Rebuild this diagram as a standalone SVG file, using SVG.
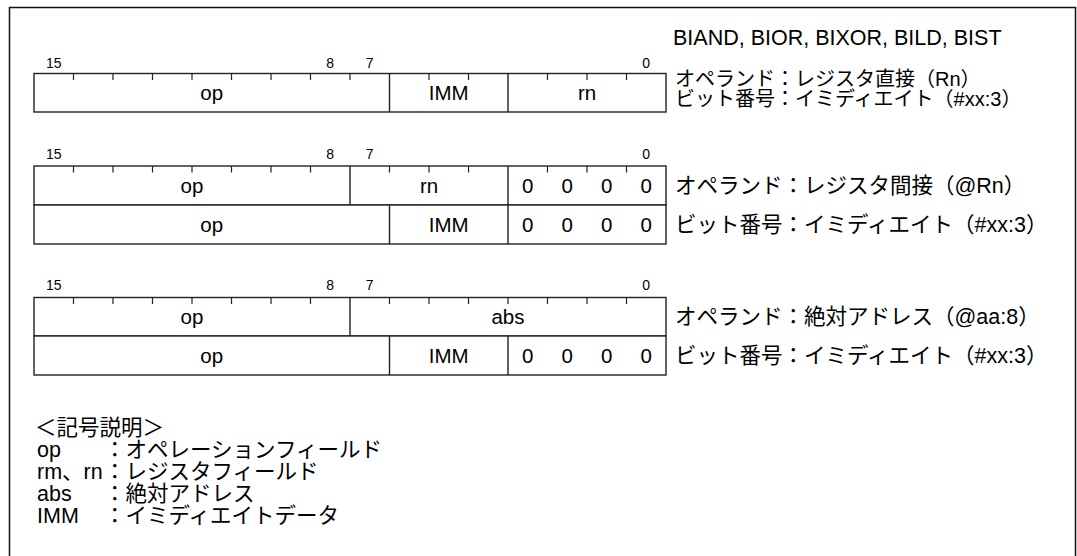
<svg xmlns="http://www.w3.org/2000/svg" width="1077" height="556" viewBox="0 0 1077 556">
<style>
.frame{fill:none;stroke:#111;stroke-width:1.5}
.box{fill:#fff;stroke:#222;stroke-width:1.4}
.ln{stroke:#222;stroke-width:1.4}
.tk{stroke:#222;stroke-width:1.2}
.bit{font-family:"Liberation Sans",Arial,sans-serif;font-size:14px;fill:#000;text-anchor:middle}
.cell{font-family:"Liberation Sans",Arial,sans-serif;font-size:20.5px;fill:#000;text-anchor:middle}
.jp{font-family:"Liberation Sans","Noto Sans CJK JP",sans-serif;font-size:21.5px;fill:#000}
.jps{font-family:"Liberation Sans","Noto Sans CJK JP",sans-serif;font-size:20px;fill:#000}
.lg{font-family:"Liberation Sans","Noto Sans CJK JP",sans-serif;font-size:21.5px;fill:#000}
</style>
<rect width="1077" height="556" fill="#fff"/>
<path class="frame" d="M9.5,560 V7.5 H1075.5 V560"/>
<text class="jp" x="673" y="45">BIAND, BIOR, BIXOR, BILD, BIST</text>

<g id="fmt1">
<text class="bit" x="53.75" y="68">15</text><text class="bit" x="330.25" y="68">8</text><text class="bit" x="369.75" y="68">7</text><text class="bit" x="646.25" y="68">0</text>
<rect class="box" x="34" y="73.5" width="632" height="38.5"/>
<path class="ln" d="M389.5,73.5V112M508,73.5V112"/>
<path class="tk" d="M73.5,73.5v6.5M113,73.5v6.5M152.5,73.5v6.5M192,73.5v6.5M231.5,73.5v6.5M271,73.5v6.5M310.5,73.5v6.5M350,73.5v6.5M429,73.5v6.5M468.5,73.5v6.5M547.5,73.5v6.5M587,73.5v6.5M626.5,73.5v6.5"/>
<text class="cell" x="211.75" y="99.5">op</text><text class="cell" x="448.75" y="99.5">IMM</text><text class="cell" x="587" y="99.5">rn</text>
<text class="jps" x="675" y="86">オペランド：レジスタ直接（Rn）</text>
<text class="jps" x="675" y="106">ビット番号：イミディエイト（#xx:3）</text>
</g>

<g id="fmt2">
<text class="bit" x="53.75" y="159">15</text><text class="bit" x="330.25" y="159">8</text><text class="bit" x="369.75" y="159">7</text><text class="bit" x="646.25" y="159">0</text>
<rect class="box" x="34" y="166" width="632" height="39"/>
<path class="ln" d="M350,166V205M508,166V205"/>
<path class="tk" d="M73.5,166v6.5M113,166v6.5M152.5,166v6.5M192,166v6.5M231.5,166v6.5M271,166v6.5M310.5,166v6.5M389.5,166v6.5M429,166v6.5M468.5,166v6.5M547.5,166v6.5M587,166v6.5M626.5,166v6.5"/>
<text class="cell" x="192" y="192.5">op</text><text class="cell" x="429" y="192.5">rn</text>
<text class="cell" x="527.75" y="192.5">0</text><text class="cell" x="567.25" y="192.5">0</text><text class="cell" x="606.75" y="192.5">0</text><text class="cell" x="646.25" y="192.5">0</text>
<rect class="box" x="34" y="205" width="632" height="39"/>
<path class="ln" d="M389.5,205V244M508,205V244"/>
<text class="cell" x="211.75" y="231.5">op</text><text class="cell" x="448.75" y="231.5">IMM</text>
<text class="cell" x="527.75" y="231.5">0</text><text class="cell" x="567.25" y="231.5">0</text><text class="cell" x="606.75" y="231.5">0</text><text class="cell" x="646.25" y="231.5">0</text>
<text class="jp" x="675" y="192.5">オペランド：レジスタ間接（@Rn）</text>
<text class="jp" x="675" y="231.5">ビット番号：イミディエイト（#xx:3）</text>
</g>

<g id="fmt3">
<text class="bit" x="53.75" y="290">15</text><text class="bit" x="330.25" y="290">8</text><text class="bit" x="369.75" y="290">7</text><text class="bit" x="646.25" y="290">0</text>
<rect class="box" x="34" y="297.5" width="632" height="38.5"/>
<path class="ln" d="M350,297.5V336"/>
<path class="tk" d="M73.5,297.5v6.5M113,297.5v6.5M152.5,297.5v6.5M192,297.5v6.5M231.5,297.5v6.5M271,297.5v6.5M310.5,297.5v6.5M389.5,297.5v6.5M429,297.5v6.5M468.5,297.5v6.5M508,297.5v6.5M547.5,297.5v6.5M587,297.5v6.5M626.5,297.5v6.5"/>
<text class="cell" x="192" y="324">op</text><text class="cell" x="508" y="324">abs</text>
<rect class="box" x="34" y="336" width="632" height="39"/>
<path class="ln" d="M389.5,336V375M508,336V375"/>
<text class="cell" x="211.75" y="362.5">op</text><text class="cell" x="448.75" y="362.5">IMM</text>
<text class="cell" x="527.75" y="362.5">0</text><text class="cell" x="567.25" y="362.5">0</text><text class="cell" x="606.75" y="362.5">0</text><text class="cell" x="646.25" y="362.5">0</text>
<text class="jp" x="675" y="323.5">オペランド：絶対アドレス（@aa:8）</text>
<text class="jp" x="675" y="362.5">ビット番号：イミディエイト（#xx:3）</text>
</g>

<g id="legend">
<text class="lg" x="35" y="435">＜記号説明＞</text>
<text class="lg" x="37" y="457">op</text><text class="lg" x="104" y="457">：オペレーションフィールド</text>
<text class="lg" x="37" y="479">rm、rn</text><text class="lg" x="104" y="479">：レジスタフィールド</text>
<text class="lg" x="37" y="501">abs</text><text class="lg" x="104" y="501">：絶対アドレス</text>
<text class="lg" x="37" y="523">IMM</text><text class="lg" x="104" y="523">：イミディエイトデータ</text>
</g>
<g id="connectors"/>
</svg>
